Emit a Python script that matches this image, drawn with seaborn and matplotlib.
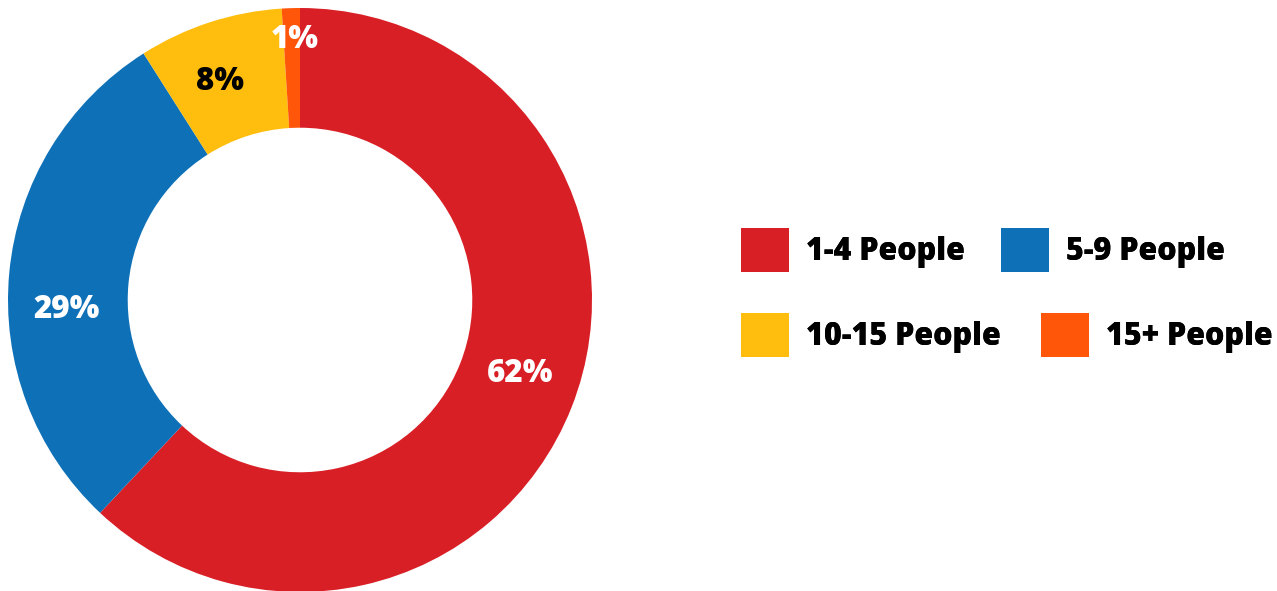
import matplotlib
matplotlib.use("Agg")
import matplotlib.pyplot as plt
import seaborn as sns

categories = ["1-4 People", "5-9 People", "10-15 People", "15+ People"]
values = [62, 29, 8, 1]
colors = ["#D91F26", "#0E71B8", "#FFBE0E", "#FF560A"]
label_colors = ["white", "white", "black", "white"]

sns.set_theme(style="white")
plt.rcParams['font.family'] = ['Open Sans', 'DejaVu Sans']

W, H = 1277, 591
fig = plt.figure(figsize=(W / 100, H / 100), dpi=100)
cx, cy, R = 300, 591 - 300, 292
ax = fig.add_axes([(cx - R) / W, (cy - R) / H, 2 * R / W, 2 * R / H])
pal = sns.color_palette(colors)
wedges, texts = ax.pie(
    values, colors=pal, startangle=90, counterclock=False,
    wedgeprops=dict(width=0.41, linewidth=0), radius=1.0)
ax.set_xlim(-1, 1); ax.set_ylim(-1, 1)
ax.set_aspect('equal')
ax.axis('off')

# label anchor pixels (from the reference) converted to data coords
label_px = [(520.5, 373.5), (66.5, 309.5), (220, 81.5), (295, 40.5)]
for v, c, (px, py) in zip(values, label_colors, label_px):
    ax.text((px - cx) / R, (300 - py) / R, f"{v}%", color=c, fontsize=22.5,
            fontweight='heavy', ha='center', va='center')

entries = [(0, 741, 250), (1, 1001, 250), (2, 741, 335), (3, 1041, 335)]
for i, xx, yy in entries:
    leg = fig.legend([wedges[i]], [categories[i]],
                     loc='center left', bbox_to_anchor=(xx / W, 1 - yy / H),
                     frameon=False, handlelength=1.57, handleheight=1.83,
                     handletextpad=0.55, borderpad=0, borderaxespad=0,
                     prop=dict(weight='heavy', size=22))
    for t in leg.get_texts():
        t.set_color('black')
    fig.add_artist(leg)

fig.savefig("out.png", dpi=100)
